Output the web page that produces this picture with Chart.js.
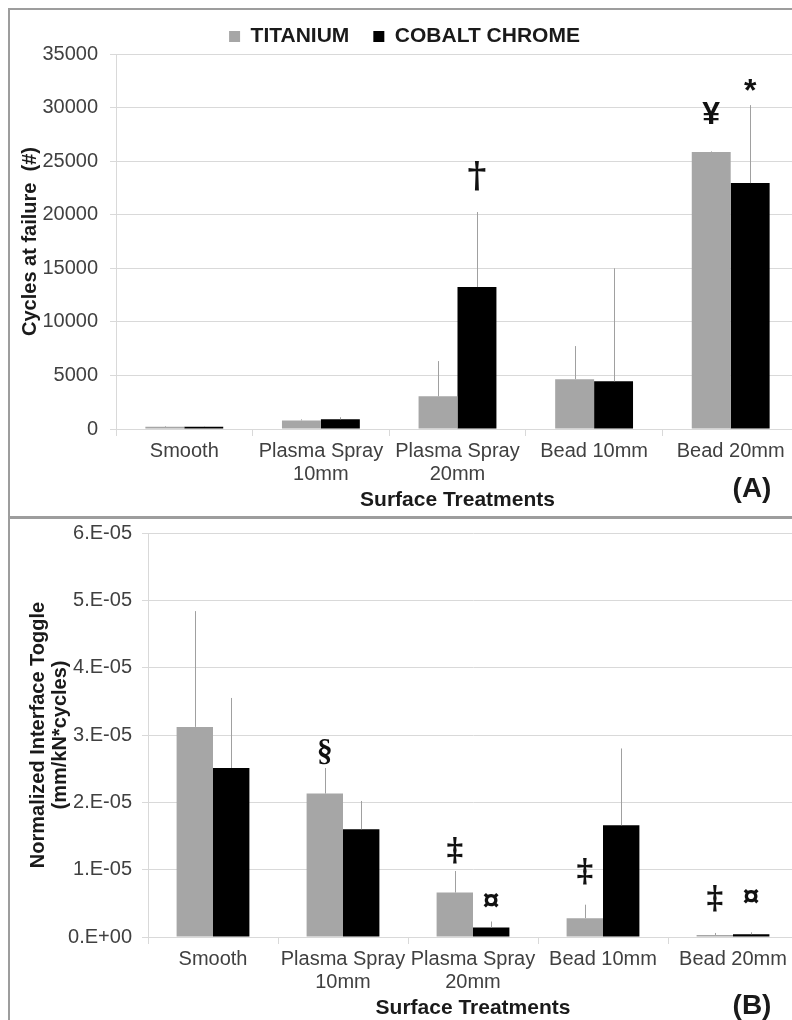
<!DOCTYPE html>
<html lang="en">
<head>
<meta charset="UTF-8">
<title>Cycles at failure and interface toggle by surface treatment</title>
<style>
    html, body { margin: 0; padding: 0; overflow: hidden; background: #ffffff; }
    body { width: 792px; height: 1020px; position: relative; }
    .panel { position: absolute; left: 8px; width: 900px; border: 2px solid #9d9d9d; border-right: none; }
    #panelA { top: 8px; height: 506px; }
    #panelB { top: 517px; height: 600px; }
    canvas { position: absolute; }
    #chartA { left: 10px; top: 2px; }
    #chartB { left: 10px; top: 511px; }
    .tag { position: absolute; font: bold 28px 'Liberation Sans', Arial, sans-serif; color: #1a1a1a; transform: translate(-50%, -50%); }
</style>
</head>
<body>
<div class="panel" id="panelA"></div>
<div class="panel" id="panelB"></div>
<canvas id="chartA" width="798" height="514"></canvas>
<canvas id="chartB" width="798" height="529"></canvas>
<div class="tag" style="left:752px; top:488px;">(A)</div>
<div class="tag" style="left:752px; top:1005px;">(B)</div>

<script src="https://cdn.jsdelivr.net/npm/chart.js"></script>
<script>
    const categories = ['Smooth', ['Plasma Spray', '10mm'], ['Plasma Spray', '20mm'], 'Bead 10mm', 'Bead 20mm'];
    const seriesNames = ['TITANIUM', 'COBALT CHROME'];

    // (A) cycles at failure
    const cyclesTi = [200, 800, 3050, 4650, 25850];
    const cyclesTiErr = [60, 100, 3290, 3090, 60];
    const cyclesCo = [200, 900, 13250, 4450, 22950];
    const cyclesCoErr = [60, 200, 7000, 10550, 7280];
    const cyclesTicks = [0, 5000, 10000, 15000, 20000, 25000, 30000, 35000];
    // significance marks and the value they sit at
    const cyclesTiMarks = ['', '', '', '', '¥'];
    const cyclesTiMarkAt = [0, 0, 0, 0, 29300];
    const cyclesCoMarks = ['', '', '†', '', '*'];
    const cyclesCoMarkAt = [0, 0, 23500, 0, 31400];

    // (B) normalized interface toggle
    const toggleTi = [3.12e-5, 2.13e-5, 0.66e-5, 0.28e-5, 0.03e-5];
    const toggleTiErr = [1.72e-5, 0.38e-5, 0.32e-5, 0.20e-5, 0.03e-5];
    const toggleCo = [2.51e-5, 1.60e-5, 0.14e-5, 1.66e-5, 0.04e-5];
    const toggleCoErr = [1.04e-5, 0.42e-5, 0.09e-5, 1.14e-5, 0.03e-5];
    const toggleTicks = ['0.E+00', '1.E-05', '2.E-05', '3.E-05', '4.E-05', '5.E-05', '6.E-05'];
    const toggleTiMarks = ['', '§', '‡', '‡', '‡'];
    const toggleTiMarkAt = [0, 2.74e-5, 1.27e-5, 0.95e-5, 0.55e-5];
    const toggleCoMarks = ['', '', '¤', '', '¤'];
    const toggleCoMarkAt = [0, 0, 0.52e-5, 0, 0.59e-5];

    const GRAY = '#a6a6a6';
    const BLACK = '#000000';
    const GRID = '#d9d9d9';
    const SANS = "'Liberation Sans', Arial, sans-serif";

    const markFonts = {
        '†': "bold 36px 'DejaVu Serif', serif",
        '‡': "bold 32px 'DejaVu Serif', serif",
        '§': "bold 32px 'Liberation Serif', serif",
        '¥': "bold 32px " + SANS,
        '*': "bold 32px " + SANS,
        '¤': "bold 30px " + SANS
    };

    const errorBars = {
        id: 'errorBars',
        afterDatasetsDraw(chart) {
            const ctx = chart.ctx;
            const y = chart.scales.y;
            ctx.save();
            ctx.strokeStyle = '#a0a0a0';
            ctx.lineWidth = 1;
            chart.data.datasets.forEach((ds, di) => {
                chart.getDatasetMeta(di).data.forEach((bar, i) => {
                    const top = y.getPixelForValue(ds.data[i] + ds.errors[i]);
                    const x = Math.round(bar.x) + 0.5;
                    ctx.beginPath();
                    ctx.moveTo(x, bar.y);
                    ctx.lineTo(x, top);
                    ctx.stroke();
                });
            });
            ctx.restore();
        }
    };

    const marks = {
        id: 'marks',
        afterDatasetsDraw(chart) {
            const ctx = chart.ctx;
            const y = chart.scales.y;
            ctx.save();
            ctx.fillStyle = '#111111';
            ctx.textAlign = 'center';
            ctx.textBaseline = 'middle';
            chart.data.datasets.forEach((ds, di) => {
                chart.getDatasetMeta(di).data.forEach((bar, i) => {
                    const m = ds.marks[i];
                    if (!m) return;
                    ctx.font = markFonts[m];
                    ctx.fillText(m, bar.x, y.getPixelForValue(ds.markAt[i]));
                });
            });
            ctx.restore();
        }
    };

    function xAxis(height, padBottom) {
        return {
            grid: { display: true, drawOnChartArea: false, drawTicks: true, tickLength: 7, color: GRID, offset: true },
            border: { display: true, color: GRID },
            ticks: { color: '#404040', font: { family: SANS, size: 20, lineHeight: 1.15 }, padding: 4, maxRotation: 0, autoSkip: false },
            title: { display: true, text: 'Surface Treatments', color: '#1a1a1a',
                font: { family: SANS, size: 21, weight: 'bold', lineHeight: 1.2 }, padding: { top: 0, bottom: padBottom } },
            afterFit: (scale) => { scale.height = height; }
        };
    }

    function makeChart(id, ti, tiErr, co, coErr, marksTi, markAtTi, marksCo, markAtCo, yOpts, extra) {
        return new Chart(document.getElementById(id), {
            type: 'bar',
            data: {
                labels: categories,
                datasets: [
                    { label: seriesNames[0], data: ti, errors: tiErr, marks: marksTi, markAt: markAtTi,
                      backgroundColor: GRAY, borderWidth: 0, categoryPercentage: extra.cat, barPercentage: 1.0 },
                    { label: seriesNames[1], data: co, errors: coErr, marks: marksCo, markAt: markAtCo,
                      backgroundColor: BLACK, borderWidth: 0, categoryPercentage: extra.cat, barPercentage: 1.0 }
                ]
            },
            options: {
                responsive: false,
                animation: false,
                devicePixelRatio: 1,
                layout: { padding: extra.padding },
                plugins: {
                    legend: extra.legend,
                    tooltip: { enabled: false }
                },
                scales: {
                    x: xAxis(extra.xHeight, extra.titlePad),
                    y: yOpts
                }
            },
            plugins: [errorBars, marks]
        });
    }

    makeChart('chartA', cyclesTi, cyclesTiErr, cyclesCo, cyclesCoErr,
        cyclesTiMarks, cyclesTiMarkAt, cyclesCoMarks, cyclesCoMarkAt,
        {
            min: 0, max: 35000,
            grid: { color: GRID, tickLength: 6 },
            border: { display: true, color: GRID },
            ticks: { stepSize: 5000, padding: 12, color: '#404040', font: { family: SANS, size: 20 },
                callback: (v) => cyclesTicks.includes(v) ? String(v) : '' },
            title: { display: true, text: 'Cycles at failure  (#)', color: '#1a1a1a',
                font: { family: SANS, size: 20, weight: 'bold', lineHeight: 1.2 }, padding: { top: 8, bottom: 0 } },
            afterFit: (scale) => { scale.width = 106; }
        },
        {
            cat: 0.57, xHeight: 87, titlePad: 3,
            padding: { left: 0, right: 9, top: 0, bottom: 0 },
            legend: {
                display: true, position: 'top', maxHeight: 52,
                labels: { boxWidth: 11, boxHeight: 11, padding: 24, color: '#1a1a1a',
                    font: { family: SANS, size: 21, weight: 'bold' } }
            }
        });

    makeChart('chartB', toggleTi, toggleTiErr, toggleCo, toggleCoErr,
        toggleTiMarks, toggleTiMarkAt, toggleCoMarks, toggleCoMarkAt,
        {
            min: 0, max: 6e-5,
            grid: { color: GRID, tickLength: 6 },
            border: { display: true, color: GRID },
            ticks: { stepSize: 1e-5, padding: 10, color: '#404040', font: { family: SANS, size: 20 },
                callback: (v) => toggleTicks[Math.round(v * 1e5)] },
            title: { display: true, text: ['Normalized Interface Toggle', '(mm/kN*cycles)'], color: '#1a1a1a',
                font: { family: SANS, size: 20, weight: 'bold', lineHeight: 1.1 }, padding: { top: 17, bottom: 0 } },
            afterFit: (scale) => { scale.width = 138; }
        },
        {
            cat: 0.56, xHeight: 103, titlePad: 19,
            padding: { left: 0, right: 10, top: 0, bottom: 0 },
            legend: { display: false }
        });
</script>
</body>
</html>
